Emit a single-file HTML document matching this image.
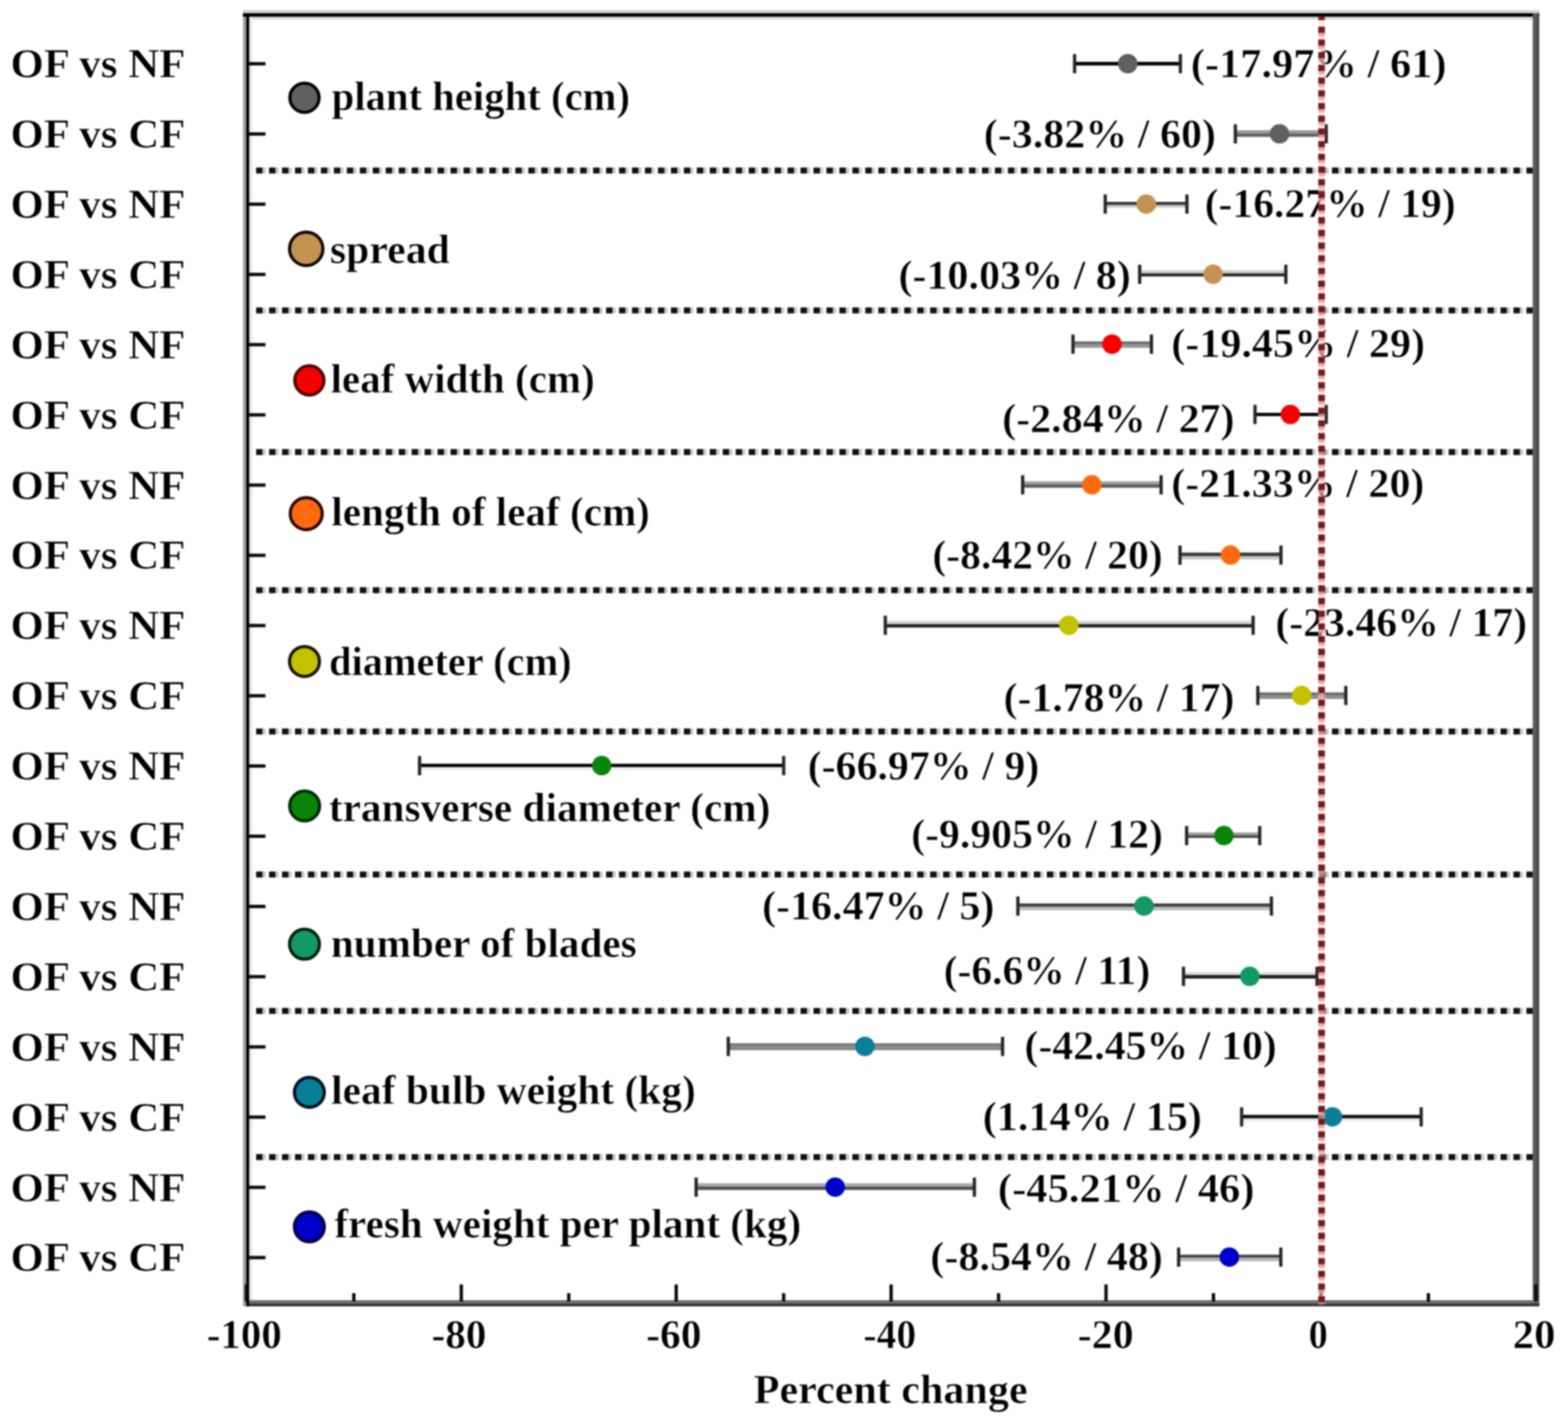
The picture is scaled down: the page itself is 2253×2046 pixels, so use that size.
<!DOCTYPE html>
<html><head><meta charset="utf-8"><title>Percent change forest plot</title><style>html,body{margin:0;padding:0;background:#fff;overflow:hidden;}svg{display:block;filter:blur(1.1px);}</style></head><body>
<svg width="2253" height="2046" viewBox="0 0 2253 2046">
<rect width="2253" height="2046" fill="#fff"/>
<g font-family="'Liberation Serif', serif" font-weight="bold" stroke-linejoin="round">
<text x="14.9" y="111.1" font-size="60" textLength="251.6" lengthAdjust="spacingAndGlyphs" fill="#000" stroke="#fff" stroke-width="0.7">OF vs NF</text>
<text x="14.9" y="212.0" font-size="60" textLength="251.6" lengthAdjust="spacingAndGlyphs" fill="#000" stroke="#fff" stroke-width="0.7">OF vs CF</text>
<text x="14.9" y="312.9" font-size="60" textLength="251.6" lengthAdjust="spacingAndGlyphs" fill="#000" stroke="#fff" stroke-width="0.7">OF vs NF</text>
<text x="14.9" y="413.8" font-size="60" textLength="251.6" lengthAdjust="spacingAndGlyphs" fill="#000" stroke="#fff" stroke-width="0.7">OF vs CF</text>
<text x="14.9" y="514.7" font-size="60" textLength="251.6" lengthAdjust="spacingAndGlyphs" fill="#000" stroke="#fff" stroke-width="0.7">OF vs NF</text>
<text x="14.9" y="615.6" font-size="60" textLength="251.6" lengthAdjust="spacingAndGlyphs" fill="#000" stroke="#fff" stroke-width="0.7">OF vs CF</text>
<text x="14.9" y="716.5" font-size="60" textLength="251.6" lengthAdjust="spacingAndGlyphs" fill="#000" stroke="#fff" stroke-width="0.7">OF vs NF</text>
<text x="14.9" y="817.4" font-size="60" textLength="251.6" lengthAdjust="spacingAndGlyphs" fill="#000" stroke="#fff" stroke-width="0.7">OF vs CF</text>
<text x="14.9" y="918.3" font-size="60" textLength="251.6" lengthAdjust="spacingAndGlyphs" fill="#000" stroke="#fff" stroke-width="0.7">OF vs NF</text>
<text x="14.9" y="1019.2" font-size="60" textLength="251.6" lengthAdjust="spacingAndGlyphs" fill="#000" stroke="#fff" stroke-width="0.7">OF vs CF</text>
<text x="14.9" y="1120.1" font-size="60" textLength="251.6" lengthAdjust="spacingAndGlyphs" fill="#000" stroke="#fff" stroke-width="0.7">OF vs NF</text>
<text x="14.9" y="1221.0" font-size="60" textLength="251.6" lengthAdjust="spacingAndGlyphs" fill="#000" stroke="#fff" stroke-width="0.7">OF vs CF</text>
<text x="14.9" y="1321.9" font-size="60" textLength="251.6" lengthAdjust="spacingAndGlyphs" fill="#000" stroke="#fff" stroke-width="0.7">OF vs NF</text>
<text x="14.9" y="1422.8" font-size="60" textLength="251.6" lengthAdjust="spacingAndGlyphs" fill="#000" stroke="#fff" stroke-width="0.7">OF vs CF</text>
<text x="14.9" y="1523.7" font-size="60" textLength="251.6" lengthAdjust="spacingAndGlyphs" fill="#000" stroke="#fff" stroke-width="0.7">OF vs NF</text>
<text x="14.9" y="1624.6" font-size="60" textLength="251.6" lengthAdjust="spacingAndGlyphs" fill="#000" stroke="#fff" stroke-width="0.7">OF vs CF</text>
<text x="14.9" y="1725.5" font-size="60" textLength="251.6" lengthAdjust="spacingAndGlyphs" fill="#000" stroke="#fff" stroke-width="0.7">OF vs NF</text>
<text x="14.9" y="1826.4" font-size="60" textLength="251.6" lengthAdjust="spacingAndGlyphs" fill="#000" stroke="#fff" stroke-width="0.7">OF vs CF</text>
<line x1="368" y1="245.0" x2="2203" y2="245.0" stroke="#cacaca" stroke-width="8.5" stroke-dasharray="13.8 4.825"/>
<line x1="368" y1="245.0" x2="2203" y2="245.0" stroke="#111" stroke-width="8.5" stroke-dasharray="9.2 9.425"/>
<line x1="368" y1="446.0" x2="2203" y2="446.0" stroke="#cacaca" stroke-width="8.5" stroke-dasharray="13.8 4.825"/>
<line x1="368" y1="446.0" x2="2203" y2="446.0" stroke="#111" stroke-width="8.5" stroke-dasharray="9.2 9.425"/>
<line x1="368" y1="649.4" x2="2203" y2="649.4" stroke="#cacaca" stroke-width="8.5" stroke-dasharray="13.8 4.825"/>
<line x1="368" y1="649.4" x2="2203" y2="649.4" stroke="#111" stroke-width="8.5" stroke-dasharray="9.2 9.425"/>
<line x1="368" y1="847.9" x2="2203" y2="847.9" stroke="#cacaca" stroke-width="8.5" stroke-dasharray="13.8 4.825"/>
<line x1="368" y1="847.9" x2="2203" y2="847.9" stroke="#111" stroke-width="8.5" stroke-dasharray="9.2 9.425"/>
<line x1="368" y1="1051.0" x2="2203" y2="1051.0" stroke="#cacaca" stroke-width="8.5" stroke-dasharray="13.8 4.825"/>
<line x1="368" y1="1051.0" x2="2203" y2="1051.0" stroke="#111" stroke-width="8.5" stroke-dasharray="9.2 9.425"/>
<line x1="368" y1="1256.4" x2="2203" y2="1256.4" stroke="#cacaca" stroke-width="8.5" stroke-dasharray="13.8 4.825"/>
<line x1="368" y1="1256.4" x2="2203" y2="1256.4" stroke="#111" stroke-width="8.5" stroke-dasharray="9.2 9.425"/>
<line x1="368" y1="1452.6" x2="2203" y2="1452.6" stroke="#cacaca" stroke-width="8.5" stroke-dasharray="13.8 4.825"/>
<line x1="368" y1="1452.6" x2="2203" y2="1452.6" stroke="#111" stroke-width="8.5" stroke-dasharray="9.2 9.425"/>
<line x1="368" y1="1662.6" x2="2203" y2="1662.6" stroke="#cacaca" stroke-width="8.5" stroke-dasharray="13.8 4.825"/>
<line x1="368" y1="1662.6" x2="2203" y2="1662.6" stroke="#111" stroke-width="8.5" stroke-dasharray="9.2 9.425"/>
<rect x="349" y="14.5" width="1863" height="4.5" fill="#d2d2d2"/>
<rect x="358" y="24" width="1844" height="4.2" fill="#d6d6d6"/>
<rect x="358" y="24" width="4.8" height="1844" fill="#ececec"/>
<rect x="349.1" y="19" width="4.6" height="1858" fill="#a0a0a0"/>
<rect x="353.7" y="19" width="4.4" height="1858" fill="#000"/>
<rect x="349" y="19" width="1863" height="5" fill="#000"/>
<rect x="2202.3" y="19" width="4.7" height="1858" fill="#5c5c5c"/>
<rect x="2207" y="19" width="4.7" height="1858" fill="#484848"/>
<rect x="358" y="1868.1" width="1853.7" height="4.6" fill="#6e6e6e"/>
<rect x="358" y="1872.7" width="1853.7" height="4.2" fill="#333"/>
<rect x="356" y="89.2" width="25.5" height="4.8" fill="#0a0a0a"/>
<rect x="356" y="190.1" width="25.5" height="4.8" fill="#0a0a0a"/>
<rect x="356" y="291.0" width="25.5" height="4.8" fill="#0a0a0a"/>
<rect x="356" y="391.9" width="25.5" height="4.8" fill="#0a0a0a"/>
<rect x="356" y="492.8" width="25.5" height="4.8" fill="#0a0a0a"/>
<rect x="356" y="593.7" width="25.5" height="4.8" fill="#0a0a0a"/>
<rect x="356" y="694.6" width="25.5" height="4.8" fill="#0a0a0a"/>
<rect x="356" y="795.5" width="25.5" height="4.8" fill="#0a0a0a"/>
<rect x="356" y="896.4" width="25.5" height="4.8" fill="#0a0a0a"/>
<rect x="356" y="997.3" width="25.5" height="4.8" fill="#0a0a0a"/>
<rect x="356" y="1098.2" width="25.5" height="4.8" fill="#0a0a0a"/>
<rect x="356" y="1199.1" width="25.5" height="4.8" fill="#0a0a0a"/>
<rect x="356" y="1300.0" width="25.5" height="4.8" fill="#0a0a0a"/>
<rect x="356" y="1400.9" width="25.5" height="4.8" fill="#0a0a0a"/>
<rect x="356" y="1501.8" width="25.5" height="4.8" fill="#0a0a0a"/>
<rect x="356" y="1602.7" width="25.5" height="4.8" fill="#0a0a0a"/>
<rect x="356" y="1703.6" width="25.5" height="4.8" fill="#0a0a0a"/>
<rect x="356" y="1804.5" width="25.5" height="4.8" fill="#0a0a0a"/>
<rect x="351.6" y="1845.5" width="4.8" height="24.5" fill="#0a0a0a"/>
<rect x="506.0" y="1858.0" width="4.8" height="12.0" fill="#0a0a0a"/>
<rect x="660.4" y="1845.5" width="4.8" height="24.5" fill="#0a0a0a"/>
<rect x="814.8" y="1858.0" width="4.8" height="12.0" fill="#0a0a0a"/>
<rect x="969.2" y="1845.5" width="4.8" height="24.5" fill="#0a0a0a"/>
<rect x="1123.6" y="1858.0" width="4.8" height="12.0" fill="#0a0a0a"/>
<rect x="1278.0" y="1845.5" width="4.8" height="24.5" fill="#0a0a0a"/>
<rect x="1432.4" y="1858.0" width="4.8" height="12.0" fill="#0a0a0a"/>
<rect x="1586.8" y="1845.5" width="4.8" height="24.5" fill="#0a0a0a"/>
<rect x="1741.2" y="1858.0" width="4.8" height="12.0" fill="#0a0a0a"/>
<rect x="1895.6" y="1845.5" width="4.8" height="24.5" fill="#0a0a0a"/>
<rect x="2050.0" y="1858.0" width="4.8" height="12.0" fill="#0a0a0a"/>
<rect x="2204.4" y="1845.5" width="4.8" height="24.5" fill="#0a0a0a"/>
<rect x="1544.0" y="88.9" width="152.0" height="5.2" fill="#050505"/>
<rect x="1541.7" y="77.7" width="4.7" height="27.6" fill="#262626"/>
<rect x="1693.7" y="77.7" width="4.7" height="27.6" fill="#262626"/>
<circle cx="1620.5" cy="91.5" r="14" fill="#606060"/>
<text x="1710.9" y="111.0" font-size="60" textLength="367.7" lengthAdjust="spacingAndGlyphs" fill="#000" stroke="#fff" stroke-width="0.7">(-17.97% / 61)</text>
<rect x="1775.0" y="187.1" width="130.5" height="4.7" fill="#999"/>
<rect x="1775.0" y="191.8" width="130.5" height="4.8" fill="#606060"/>
<rect x="1772.7" y="178.5" width="4.7" height="27.6" fill="#262626"/>
<rect x="1903.2" y="178.5" width="4.7" height="27.6" fill="#262626"/>
<circle cx="1838.5" cy="192.3" r="14" fill="#606060"/>
<text x="1413.6" y="212.0" font-size="60" textLength="333.6" lengthAdjust="spacingAndGlyphs" fill="#000" stroke="#fff" stroke-width="0.7">(-3.82% / 60)</text>
<rect x="1588.0" y="290.1" width="117.4" height="4.6" fill="#333"/>
<rect x="1588.0" y="294.7" width="117.4" height="3.9" fill="#ccc"/>
<rect x="1585.7" y="279.4" width="4.7" height="27.6" fill="#262626"/>
<rect x="1703.1" y="279.4" width="4.7" height="27.6" fill="#262626"/>
<circle cx="1647.0" cy="293.2" r="14" fill="#c39352"/>
<text x="1730.9" y="311.5" font-size="60" textLength="360.7" lengthAdjust="spacingAndGlyphs" fill="#000" stroke="#fff" stroke-width="0.7">(-16.27% / 19)</text>
<rect x="1637.5" y="388.1" width="210.0" height="4.6" fill="#d0d0d0"/>
<rect x="1637.5" y="392.7" width="210.0" height="4.5" fill="#2a2a2a"/>
<rect x="1635.2" y="380.3" width="4.7" height="27.6" fill="#262626"/>
<rect x="1845.2" y="380.3" width="4.7" height="27.6" fill="#262626"/>
<circle cx="1743.0" cy="394.1" r="14" fill="#c39352"/>
<text x="1290.9" y="414.5" font-size="60" textLength="334.1" lengthAdjust="spacingAndGlyphs" fill="#000" stroke="#fff" stroke-width="0.7">(-10.03% / 8)</text>
<rect x="1541.7" y="490.6" width="112.7" height="4.1" fill="#666"/>
<rect x="1541.7" y="494.7" width="112.7" height="5.0" fill="#939393"/>
<rect x="1539.4" y="480.7" width="4.7" height="27.6" fill="#262626"/>
<rect x="1652.1" y="480.7" width="4.7" height="27.6" fill="#262626"/>
<circle cx="1597.8" cy="494.5" r="14" fill="#f50000"/>
<text x="1682.9" y="512.5" font-size="60" textLength="364.8" lengthAdjust="spacingAndGlyphs" fill="#000" stroke="#fff" stroke-width="0.7">(-19.45% / 29)</text>
<rect x="1803.2" y="593.1" width="102.4" height="4.8" fill="#050505"/>
<rect x="1800.9" y="581.7" width="4.7" height="27.6" fill="#262626"/>
<rect x="1903.2" y="581.7" width="4.7" height="27.6" fill="#262626"/>
<circle cx="1854.1" cy="595.5" r="14" fill="#f50000"/>
<text x="1439.9" y="620.5" font-size="60" textLength="334.1" lengthAdjust="spacingAndGlyphs" fill="#000" stroke="#fff" stroke-width="0.7">(-2.84% / 27)</text>
<rect x="1469.4" y="691.5" width="198.9" height="4.4" fill="#a0a0a0"/>
<rect x="1469.4" y="695.9" width="198.9" height="4.9" fill="#5e5e5e"/>
<rect x="1467.1" y="682.8" width="4.7" height="27.6" fill="#262626"/>
<rect x="1666.0" y="682.8" width="4.7" height="27.6" fill="#262626"/>
<circle cx="1568.8" cy="696.6" r="14" fill="#ff6a10"/>
<text x="1682.9" y="713.5" font-size="60" textLength="363.8" lengthAdjust="spacingAndGlyphs" fill="#000" stroke="#fff" stroke-width="0.7">(-21.33% / 20)</text>
<rect x="1695.6" y="793.9" width="144.9" height="5.1" fill="#3c3c3c"/>
<rect x="1695.6" y="799.0" width="144.9" height="4.8" fill="#c4c4c4"/>
<rect x="1693.2" y="783.8" width="4.7" height="27.6" fill="#262626"/>
<rect x="1838.2" y="783.8" width="4.7" height="27.6" fill="#262626"/>
<circle cx="1768.1" cy="797.6" r="14" fill="#ff6a10"/>
<text x="1339.7" y="816.6" font-size="60" textLength="330.9" lengthAdjust="spacingAndGlyphs" fill="#000" stroke="#fff" stroke-width="0.7">(-8.42% / 20)</text>
<rect x="1272.0" y="891.8" width="528.5" height="4.9" fill="#d6d6d6"/>
<rect x="1272.0" y="896.7" width="528.5" height="4.9" fill="#242424"/>
<rect x="1269.7" y="884.6" width="4.7" height="27.6" fill="#262626"/>
<rect x="1798.2" y="884.6" width="4.7" height="27.6" fill="#262626"/>
<circle cx="1535.8" cy="898.4" r="14" fill="#c4c200"/>
<text x="1832.4" y="913.5" font-size="60" textLength="361.9" lengthAdjust="spacingAndGlyphs" fill="#000" stroke="#fff" stroke-width="0.7">(-23.46% / 17)</text>
<rect x="1807.3" y="994.8" width="126.4" height="4.9" fill="#707070"/>
<rect x="1807.3" y="999.7" width="126.4" height="4.5" fill="#8c8c8c"/>
<rect x="1805.0" y="985.5" width="4.7" height="27.6" fill="#262626"/>
<rect x="1931.4" y="985.5" width="4.7" height="27.6" fill="#262626"/>
<circle cx="1870.3" cy="999.3" r="14" fill="#c4c200"/>
<text x="1441.9" y="1021.5" font-size="60" textLength="332.0" lengthAdjust="spacingAndGlyphs" fill="#000" stroke="#fff" stroke-width="0.7">(-1.78% / 17)</text>
<rect x="602.9" y="1097.4" width="523.1" height="4.9" fill="#000"/>
<rect x="602.9" y="1102.3" width="523.1" height="4.0" fill="#eee"/>
<rect x="600.5" y="1086.3" width="4.7" height="27.6" fill="#262626"/>
<rect x="1123.7" y="1086.3" width="4.7" height="27.6" fill="#262626"/>
<circle cx="864.6" cy="1100.1" r="14" fill="#0a840a"/>
<text x="1160.5" y="1119.5" font-size="60" textLength="332.8" lengthAdjust="spacingAndGlyphs" fill="#000" stroke="#fff" stroke-width="0.7">(-66.97% / 9)</text>
<rect x="1705.0" y="1196.0" width="105.0" height="4.0" fill="#a0a0a0"/>
<rect x="1705.0" y="1200.0" width="105.0" height="4.0" fill="#505050"/>
<rect x="1702.7" y="1186.8" width="4.7" height="27.6" fill="#262626"/>
<rect x="1807.7" y="1186.8" width="4.7" height="27.6" fill="#262626"/>
<circle cx="1758.6" cy="1200.6" r="14" fill="#0a840a"/>
<text x="1309.3" y="1217.5" font-size="60" textLength="361.8" lengthAdjust="spacingAndGlyphs" fill="#000" stroke="#fff" stroke-width="0.7">(-9.905% / 12)</text>
<rect x="1462.5" y="1298.1" width="364.3" height="4.8" fill="#404040"/>
<rect x="1462.5" y="1302.9" width="364.3" height="5.1" fill="#bdbdbd"/>
<rect x="1460.2" y="1288.0" width="4.7" height="27.6" fill="#262626"/>
<rect x="1824.5" y="1288.0" width="4.7" height="27.6" fill="#262626"/>
<circle cx="1643.8" cy="1301.8" r="14" fill="#129a62"/>
<text x="1094.9" y="1320.5" font-size="60" textLength="334.0" lengthAdjust="spacingAndGlyphs" fill="#000" stroke="#fff" stroke-width="0.7">(-16.47% / 5)</text>
<rect x="1700.6" y="1396.7" width="191.8" height="4.1" fill="#ddd"/>
<rect x="1700.6" y="1400.8" width="191.8" height="5.2" fill="#222"/>
<rect x="1698.2" y="1389.0" width="4.7" height="27.6" fill="#262626"/>
<rect x="1890.1" y="1389.0" width="4.7" height="27.6" fill="#262626"/>
<circle cx="1795.8" cy="1402.8" r="14" fill="#129a62"/>
<text x="1355.9" y="1413.6" font-size="60" textLength="296.9" lengthAdjust="spacingAndGlyphs" fill="#000" stroke="#fff" stroke-width="0.7">(-6.6% / 11)</text>
<rect x="1046.4" y="1498.9" width="394.1" height="4.5" fill="#797979"/>
<rect x="1046.4" y="1503.4" width="394.1" height="5.5" fill="#878787"/>
<rect x="1044.1" y="1489.7" width="4.7" height="27.6" fill="#262626"/>
<rect x="1438.2" y="1489.7" width="4.7" height="27.6" fill="#262626"/>
<circle cx="1242.7" cy="1503.5" r="14" fill="#0a7f9a"/>
<text x="1471.9" y="1521.5" font-size="60" textLength="362.7" lengthAdjust="spacingAndGlyphs" fill="#000" stroke="#fff" stroke-width="0.7">(-42.45% / 10)</text>
<rect x="1784.0" y="1601.8" width="258.0" height="5.1" fill="#111"/>
<rect x="1784.0" y="1606.9" width="258.0" height="4.1" fill="#eaeaea"/>
<rect x="1781.7" y="1590.9" width="4.7" height="27.6" fill="#262626"/>
<rect x="2039.7" y="1590.9" width="4.7" height="27.6" fill="#262626"/>
<circle cx="1914.5" cy="1604.7" r="14" fill="#0a7f9a"/>
<text x="1411.9" y="1623.5" font-size="60" textLength="315.2" lengthAdjust="spacingAndGlyphs" fill="#000" stroke="#fff" stroke-width="0.7">(1.14% / 15)</text>
<rect x="1000.2" y="1700.0" width="399.8" height="4.8" fill="#acacac"/>
<rect x="1000.2" y="1704.8" width="399.8" height="4.9" fill="#4e4e4e"/>
<rect x="997.9" y="1691.9" width="4.7" height="27.6" fill="#262626"/>
<rect x="1397.7" y="1691.9" width="4.7" height="27.6" fill="#262626"/>
<circle cx="1200.0" cy="1705.7" r="14" fill="#0000c8"/>
<text x="1433.8" y="1726.5" font-size="60" textLength="368.8" lengthAdjust="spacingAndGlyphs" fill="#000" stroke="#fff" stroke-width="0.7">(-45.21% / 46)</text>
<rect x="1693.6" y="1802.7" width="146.7" height="4.4" fill="#464646"/>
<rect x="1693.6" y="1807.1" width="146.7" height="5.1" fill="#b8b8b8"/>
<rect x="1691.2" y="1792.4" width="4.7" height="27.6" fill="#262626"/>
<rect x="1838.0" y="1792.4" width="4.7" height="27.6" fill="#262626"/>
<circle cx="1766.4" cy="1806.2" r="14" fill="#0000c8"/>
<text x="1336.8" y="1824.5" font-size="60" textLength="334.1" lengthAdjust="spacingAndGlyphs" fill="#000" stroke="#fff" stroke-width="0.7">(-8.54% / 48)</text>
<line x1="1898.9" y1="24" x2="1898.9" y2="1874" stroke="#fbd8d8" stroke-width="9.4" opacity="0.55"/>
<line x1="1898.9" y1="38.5" x2="1898.9" y2="1874" stroke="#e89090" stroke-width="9.4" stroke-dasharray="13.5 4.74" opacity="0.75"/>
<line x1="1898.9" y1="38.5" x2="1898.9" y2="1874" stroke="#741a1a" stroke-width="9.4" stroke-dasharray="8.8 9.44"/>
<line x1="1898.9" y1="23" x2="1898.9" y2="29" stroke="#741a1a" stroke-width="9.4"/>
<circle cx="437.5" cy="140.4" r="21.0" fill="#606060" stroke="#000" stroke-width="4.5"/>
<text x="476.4" y="157.5" font-size="60" textLength="428.9" lengthAdjust="spacingAndGlyphs" fill="#000" stroke="#fff" stroke-width="0.7">plant height (cm)</text>
<circle cx="440.0" cy="357.5" r="24.0" fill="#c39352" stroke="#100500" stroke-width="4.5"/>
<text x="474.0" y="377.5" font-size="60" textLength="172.3" lengthAdjust="spacingAndGlyphs" fill="#000" stroke="#fff" stroke-width="0.7">spread</text>
<circle cx="444.5" cy="546.6" r="21.0" fill="#f50000" stroke="#4a0000" stroke-width="4.5"/>
<text x="475.0" y="564.0" font-size="60" textLength="379.5" lengthAdjust="spacingAndGlyphs" fill="#000" stroke="#fff" stroke-width="0.7">leaf width (cm)</text>
<circle cx="440.0" cy="738.0" r="23.0" fill="#ff6a10" stroke="#2a0800" stroke-width="4.5"/>
<text x="476.0" y="755.0" font-size="60" textLength="457.8" lengthAdjust="spacingAndGlyphs" fill="#000" stroke="#fff" stroke-width="0.7">length of leaf (cm)</text>
<circle cx="437.5" cy="950.4" r="21.5" fill="#c4c200" stroke="#151500" stroke-width="4.5"/>
<text x="472.8" y="969.5" font-size="60" textLength="348.5" lengthAdjust="spacingAndGlyphs" fill="#000" stroke="#fff" stroke-width="0.7">diameter (cm)</text>
<circle cx="437.7" cy="1158.0" r="21.5" fill="#0a840a" stroke="#002a00" stroke-width="4.5"/>
<text x="472.5" y="1179.5" font-size="60" textLength="634.4" lengthAdjust="spacingAndGlyphs" fill="#000" stroke="#fff" stroke-width="0.7">transverse diameter (cm)</text>
<circle cx="437.5" cy="1356.6" r="21.5" fill="#129a62" stroke="#002010" stroke-width="4.5"/>
<text x="475.4" y="1375.0" font-size="60" textLength="439.5" lengthAdjust="spacingAndGlyphs" fill="#000" stroke="#fff" stroke-width="0.7">number of blades</text>
<circle cx="444.5" cy="1569.5" r="21.5" fill="#0a7f9a" stroke="#001018" stroke-width="4.5"/>
<text x="475.8" y="1586.0" font-size="60" textLength="523.9" lengthAdjust="spacingAndGlyphs" fill="#000" stroke="#fff" stroke-width="0.7">leaf bulb weight (kg)</text>
<circle cx="444.5" cy="1762.8" r="21.5" fill="#0000c8" stroke="#000040" stroke-width="4.5"/>
<text x="480.4" y="1778.0" font-size="60" textLength="670.7" lengthAdjust="spacingAndGlyphs" fill="#000" stroke="#fff" stroke-width="0.7">fresh weight per plant (kg)</text>
<text x="297.0" y="1936.5" font-size="60" textLength="107.9" lengthAdjust="spacingAndGlyphs" fill="#000" stroke="#fff" stroke-width="0.7">-100</text>
<text x="620.0" y="1936.5" font-size="60" textLength="78.9" lengthAdjust="spacingAndGlyphs" fill="#000" stroke="#fff" stroke-width="0.7">-80</text>
<text x="928.5" y="1936.5" font-size="60" textLength="79.5" lengthAdjust="spacingAndGlyphs" fill="#000" stroke="#fff" stroke-width="0.7">-60</text>
<text x="1240.6" y="1936.5" font-size="60" textLength="75.8" lengthAdjust="spacingAndGlyphs" fill="#000" stroke="#fff" stroke-width="0.7">-40</text>
<text x="1548.5" y="1936.5" font-size="60" textLength="80.5" lengthAdjust="spacingAndGlyphs" fill="#000" stroke="#fff" stroke-width="0.7">-20</text>
<text x="1880.2" y="1936.5" font-size="60" textLength="27.7" lengthAdjust="spacingAndGlyphs" fill="#000" stroke="#fff" stroke-width="0.7">0</text>
<text x="2173.4" y="1936.5" font-size="60" textLength="61.6" lengthAdjust="spacingAndGlyphs" fill="#000" stroke="#fff" stroke-width="0.7">20</text>
<text x="1083.0" y="2015.5" font-size="60" textLength="393.5" lengthAdjust="spacingAndGlyphs" fill="#000" stroke="#fff" stroke-width="0.7">Percent change</text>
</g></svg>
</body></html>
